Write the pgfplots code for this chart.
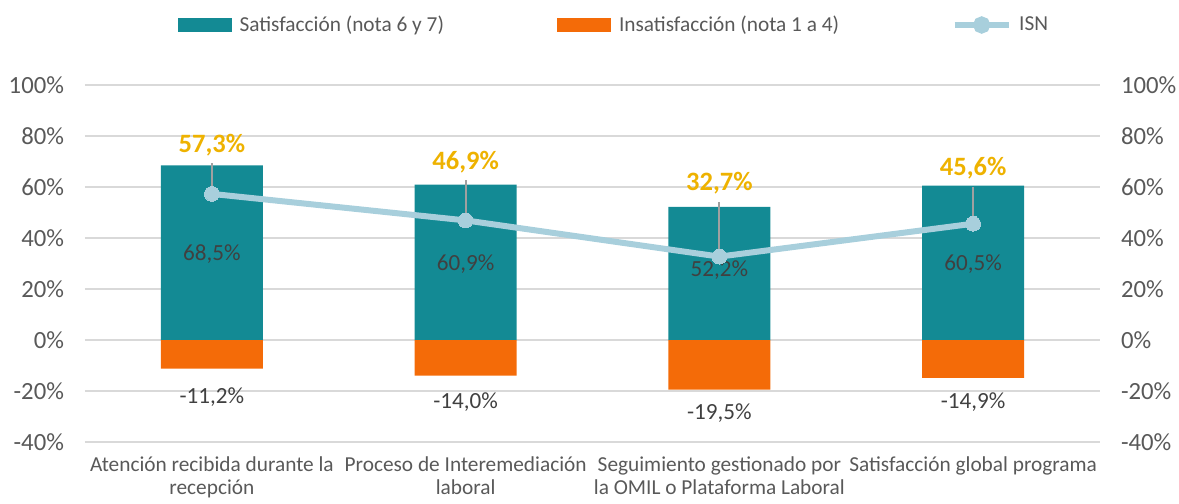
\documentclass[border=0pt]{standalone}
\usepackage{fontspec}
\setmainfont{Carlito}
\usepackage{pgfplots}
\pgfplotsset{compat=1.18}
\definecolor{cSat}{HTML}{138A94}
\definecolor{cIns}{HTML}{F46B08}
\definecolor{cIsn}{HTML}{A8CFDC}
\definecolor{cGold}{HTML}{EEB200}
\definecolor{cTick}{HTML}{595959}
\definecolor{cLab}{HTML}{404040}
\definecolor{cGrid}{HTML}{D9D9D9}
\definecolor{cLead}{HTML}{A0A0A0}
\newcommand{\fs}{\fontsize{10.7}{11.3}\selectfont}
\newcommand{\fy}{\fontsize{12.4}{13}\selectfont}
\newcommand{\fv}{\fontsize{11.6}{12}\selectfont}
\newcommand{\fg}{\fontsize{13.3}{14}\selectfont\bfseries}
\begin{document}
\begin{tikzpicture}
\path[use as bounding box] (-42.5bp,-31bp) rectangle (547bp,221bp);
\begin{axis}[
  at={(0,0)}, anchor=south west,
  scale only axis, width=507.5bp, height=178.5bp,
  xmin=-0.5, xmax=3.5, ymin=-40, ymax=100,
  ytick={-40,-20,...,100},
  yticklabel={\pgfmathprintnumber{\tick}\%},
  xtick={0,1,2,3},
  xticklabels={Atención recibida durante la\\recepción, Proceso de Interemediación\\laboral, Seguimiento gestionado por\\la OMIL o Plataforma Laboral, Satisfacción global programa},
  axis line style={draw=none},
  ymajorgrids, grid style={cGrid, line width=1bp},
  major tick length=0pt,
  xticklabel style={font=\fs, text=cTick, align=center, yshift=-4bp},
  yticklabel style={font=\fy, text=cTick, xshift=-7bp},
  /pgf/number format/assume math mode=true,
  clip=false,
  legend style={at={(0.522,1)}, anchor=center, yshift=30bp, draw=none, fill=none,
    font=\fs, text=cTick, legend columns=3,
    /tikz/every odd column/.style={column sep=2bp},
    /tikz/column 2/.style={column sep=54.5bp},
    /tikz/column 4/.style={column sep=54.5bp}},
]
\addplot[ybar, bar width=51bp, bar shift=0pt, fill=cSat, draw=none,
  legend image code/.code={\fill[cSat] (0bp,-3.5bp) rectangle (27bp,3.5bp);}]
  coordinates {(0,68.5) (1,60.9) (2,52.2) (3,60.5)};
\addlegendentry{Satisfacción (nota 6 y 7)}
\addplot[ybar, bar width=51bp, bar shift=0pt, fill=cIns, draw=none,
  legend image code/.code={\fill[cIns] (0bp,-3.5bp) rectangle (27bp,3.5bp);}]
  coordinates {(0,-11.2) (1,-14.0) (2,-19.5) (3,-14.9)};
\addlegendentry{Insatisfacción (nota 1 a 4)}
% leader lines
\draw[cLead, line width=0.9bp] (axis cs:0,57.3) -- (axis cs:0,69.5);
\draw[cLead, line width=0.9bp] (axis cs:1,46.9) -- (axis cs:1,62.7);
\draw[cLead, line width=0.9bp] (axis cs:2,32.7) -- (axis cs:2,54.0);
\draw[cLead, line width=0.9bp] (axis cs:3,45.6) -- (axis cs:3,60.1);
\addplot[cIsn, line width=3bp, mark=*, mark size=3.7bp, mark options={fill=cIsn, draw=cIsn, line width=0pt},
  legend image code/.code={\draw[cIsn, line width=2.5bp] (0bp,0bp) -- (27bp,0bp); \fill[cIsn] (13.5bp,0bp) circle (2.8bp);}]
  coordinates {(0,57.3) (1,46.9) (2,32.7) (3,45.6)};
\addlegendentry{ISN}
% value labels
\node[font=\fv, text=cLab] at (axis cs:0,33.7) {68,5\%};
\node[font=\fv, text=cLab] at (axis cs:1,29.8) {60,9\%};
\node[font=\fv, text=cLab] at (axis cs:2,27.5) {52,2\%};
\node[font=\fv, text=cLab] at (axis cs:3,29.8) {60,5\%};
\node[font=\fv, text=cLab] at (axis cs:0,-22.2) {-11,2\%};
\node[font=\fv, text=cLab] at (axis cs:1,-24.2) {-14,0\%};
\node[font=\fv, text=cLab] at (axis cs:2,-28.6) {-19,5\%};
\node[font=\fv, text=cLab] at (axis cs:3,-24.2) {-14,9\%};
\node[font=\fg, text=cGold] at (axis cs:0,76.5) {57,3\%};
\node[font=\fg, text=cGold] at (axis cs:1,69.9) {46,9\%};
\node[font=\fg, text=cGold] at (axis cs:2,61.4) {32,7\%};
\node[font=\fg, text=cGold] at (axis cs:3,67.3) {45,6\%};
\end{axis}
\begin{axis}[
  at={(0,0)}, anchor=south west,
  scale only axis, width=507.5bp, height=178.5bp,
  xmin=-0.5, xmax=3.5, ymin=-40, ymax=100,
  ytick={-40,-20,...,100},
  yticklabel={\pgfmathprintnumber{\tick}\%},
  axis y line*=right, hide x axis,
  axis line style={draw=none},
  major tick length=0pt,
  yticklabel style={font=\fy, text=cTick, xshift=7bp},
  /pgf/number format/assume math mode=true,
]
\addplot[draw=none] coordinates {(0,0)};
\end{axis}
\end{tikzpicture}
\end{document}
